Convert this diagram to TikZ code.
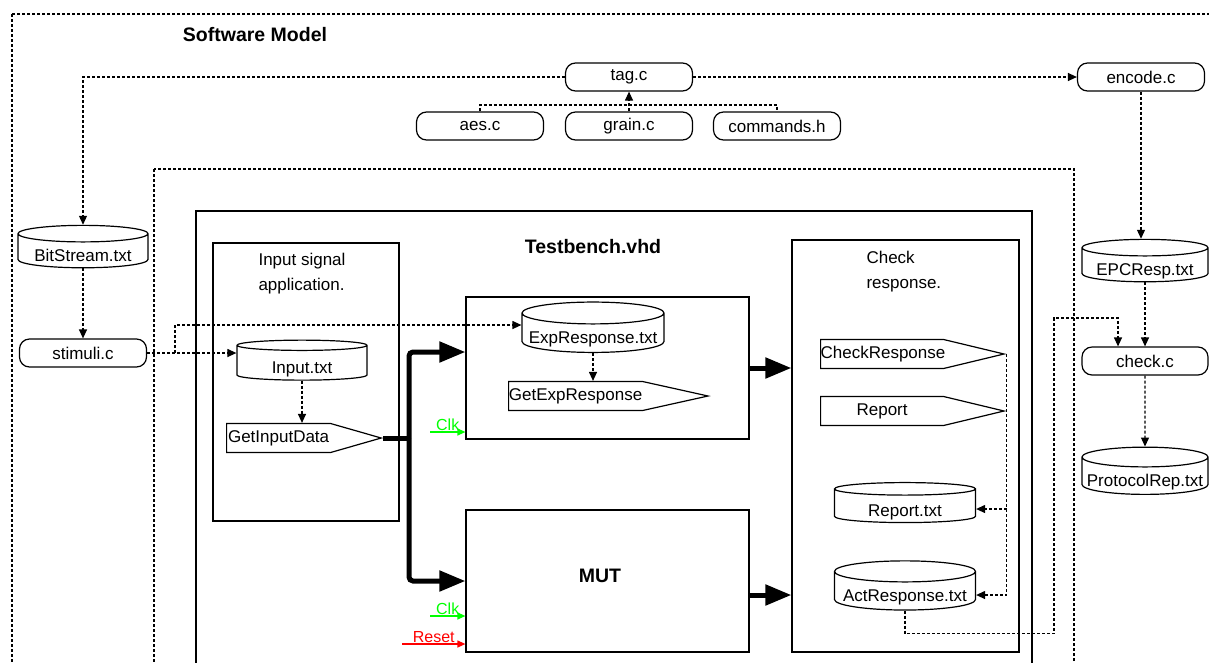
\documentclass[tikz,border=0pt]{standalone}
\usepackage{fontspec}
\setmainfont{Liberation Sans}
\usetikzlibrary{shapes.geometric,shapes.symbols,arrows.meta,calc}

\definecolor{clkgreen}{HTML}{00FF00}
\definecolor{rstred}{HTML}{FF0000}

\tikzset{
  srcfile/.style={draw, line width=1.2pt, rounded corners=10pt, minimum width=127pt, minimum height=28pt, inner sep=0pt},
  datafile/.style={draw, line width=1.2pt, cylinder, shape border rotate=90, aspect=0.17, minimum width=130pt, minimum height=40pt, inner xsep=0pt, inner ysep=-2pt, text height=21pt, text depth=0pt},
  vhdproc/.style={draw, line width=1.2pt, signal, signal to=east, minimum height=29pt, inner xsep=0pt, inner ysep=0pt, align=center},
  block/.style={draw, line width=1.2pt, inner sep=0pt},
  dotline/.style={line width=1.2pt, dash pattern=on 3pt off 2pt},
  flow/.style={dotline, -{Triangle[length=9pt,width=8pt]}},
  bus/.style={line width=5pt, -{Triangle[length=26pt,width=20pt]}, rounded corners=4pt},
  sigin/.style={line width=1.2pt, -{Triangle[length=8pt,width=7pt]}},
  title/.style={font=\fontsize{19.5}{22}\selectfont\bfseries}
}

\begin{document}
\begin{tikzpicture}[x=1pt, y=-1pt, font=\fontsize{17}{20}\selectfont]
\useasboundingbox (0,0) rectangle (1209,662);
\clip (0,0) rectangle (1209,662);

% frames
\draw[dotline] (12,14) rectangle (1240,700);
\draw[dotline] (154,169) rectangle (1074,700);
\draw[line width=1.2pt] (196,211) rectangle (1032,700);
\node[title] (swmodel) at (255,35) {Software Model};
\node[title] (tbname) at (593,247) {Testbench.vhd};

% C sources
\node[srcfile] (tagc) at (629,77) {tag.c};
\node[srcfile] (aesc) at (480,126) {aes.c};
\node[srcfile] (grainc) at (629,126) {grain.c};
\node[srcfile] (cmdh) at (777,126) {commands.h};
\node[srcfile] (encodec) at (1141,77) {encode.c};
\node[datafile] (bitstream) at (83,251) {BitStream.txt};
\node[srcfile] (stimulic) at (83,353) {stimuli.c};
\node[datafile, minimum width=126pt] (epcresp) at (1145,265) {EPCResp.txt};
\node[srcfile, minimum width=126pt] (checkc) at (1145,361) {check.c};
\node[datafile, minimum width=126pt] (protrep) at (1145,476) {ProtocolRep.txt};

% testbench blocks
\node[block, minimum width=186pt, minimum height=278pt] (inputbox) at (306,382) {};
\node[anchor=west, align=left, font=\fontsize{17}{25}\selectfont] (inputlbl) at (255,274) {Input signal\\application.};
\node[datafile] (inputtxt) at (302,363) {Input.txt};
\node[vhdproc, text width=104pt, signal pointer angle=32, anchor=west] (getinput) at (226,438) {GetInputData};

\node[block, minimum width=283pt, minimum height=142pt] (expbox) at (607.5,368) {};
\node[datafile, minimum width=142pt] (exptxt) at (593,333) {ExpResponse.txt};
\node[vhdproc, text width=134pt, signal pointer angle=25, anchor=west] (getexp) at (508,396) {GetExpResponse};

\node[block, minimum width=283pt, minimum height=142pt] (mutbox) at (607.5,581) {};
\node[title] (mutlbl) at (600,576) {MUT};

\node[block, minimum width=227pt, minimum height=412pt] (checkbox) at (905.5,446) {};
\node[anchor=west, align=left, font=\fontsize{17}{25}\selectfont] (checklbl) at (863,272) {Check\\response.};
\node[vhdproc, text width=123pt, signal pointer angle=27, anchor=west] (checkresp) at (820,354) {CheckResponse};
\node[vhdproc, text width=123pt, signal pointer angle=27, anchor=west] (report) at (820,411) {Report};
\node[datafile, minimum width=141pt] (reporttxt) at (905,506) {Report.txt};
\node[datafile, minimum width=141pt] (actresp) at (905,591) {ActResponse.txt};

% software model flow
\draw[flow] (tagc.west) -| (bitstream.north);
\draw[flow] (tagc) -- (encodec);
\draw[dotline] (aesc.north) |- (cmdh.north |- 0,105) -- (cmdh.north);
\draw[flow] (grainc.north) -- (tagc.south);
\draw[flow] (bitstream.south) -- (stimulic.north);
\draw[flow] (encodec.south) -- (encodec.south |- epcresp.north);
\draw[flow] (epcresp.south) -- (checkc.north);
\draw[flow] (checkc.south) -- (protrep.north);

% stimuli into the testbench
\coordinate (split) at (175,353);
\draw[flow] (stimulic.east) -- (inputtxt.west |- stimulic.east);
\draw[flow] (split) |- (exptxt.west |- 0,325);
\draw[flow] (inputtxt.south) -- (inputtxt.south |- getinput.north);
\draw[flow] (exptxt.south) -- (exptxt.south |- getexp.north);

% data bus
\coordinate (busturn) at (409,438);
\draw[line width=5pt] (getinput.east) -- (busturn);
\draw[bus] (busturn) |- ($(expbox.west)+(0,-16)$);
\draw[bus] (busturn) |- (mutbox.west);
\draw[bus] (expbox.east) -- (checkbox.west |- expbox.east);
\draw[bus] ($(mutbox.east)+(0,14)$) -- (checkbox.west |- 0,595);

% clock and reset
\coordinate (clka) at (430,432);
\coordinate (clkb) at (430,616);
\coordinate (rsta) at (402,644);
\draw[sigin, clkgreen] (clka) -- (expbox.west |- clka) node[midway, above, inner sep=1pt, font=\fontsize{16}{18}\selectfont] {Clk};
\draw[sigin, clkgreen] (clkb) -- (mutbox.west |- clkb) node[midway, above, inner sep=1pt, font=\fontsize{16}{18}\selectfont] {Clk};
\draw[sigin, rstred] (rsta) -- (mutbox.west |- rsta) node[midway, above, inner sep=1pt, font=\fontsize{16}{18}\selectfont] {Reset};

% response checking
\draw[flow] (checkresp.east) |- (actresp.east |- 0,595);
\draw[flow] (checkresp.east |- 0,509) -- (reporttxt.east |- 0,509);
\draw[flow] (actresp.south) -- ++(0,23) -| (1054,318) -| ($(checkc.north)+(-27,0)$);
\end{tikzpicture}
\end{document}
